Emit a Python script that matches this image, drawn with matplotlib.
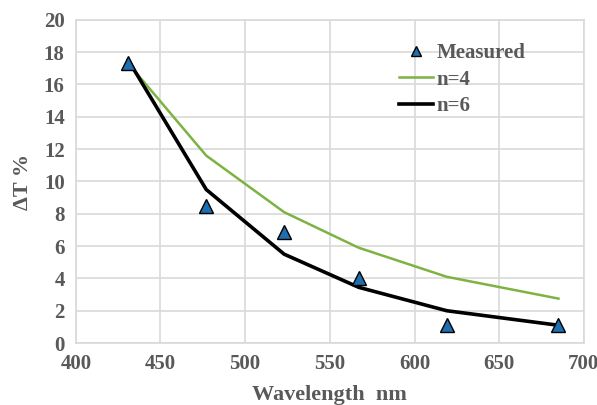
import matplotlib
matplotlib.use('Agg')
import matplotlib.pyplot as plt

# data
wavelength = [431, 477, 523, 567, 619, 685]
measured = [17.3, 8.5, 6.9, 4.05, 1.1, 1.1]
n4 = [17.3, 11.6, 8.1, 5.9, 4.1, 2.75]
n6 = [17.5, 9.5, 5.5, 3.45, 2.0, 1.1]

plt.rcParams['font.family'] = ['Liberation Serif']
plt.rcParams['font.weight'] = 'bold'
grey = '#595959'

fig = plt.figure(figsize=(5.97, 4.05), dpi=100)
ax = fig.add_axes([0.127, 0.153, 0.851, 0.798])

ax.plot(wavelength, n4, color='#7cb342', lw=1.8, label='n=4', zorder=3)
ax.plot(wavelength, n6, color='black', lw=2.6, label='n=6', zorder=3)
ax.plot(wavelength, measured, ls='none', marker='^', ms=10, mfc='#1f6fb0',
        mec='black', mew=1.0, label='Measured', zorder=4)

ax.set_xlim(400, 700)
ax.set_ylim(0, 20)
ax.set_xticks(range(400, 701, 50))
ax.set_yticks(range(0, 21, 2))
ax.grid(True, color='#d9d9d9', lw=1.2)
ax.set_axisbelow(True)
for s in ax.spines.values():
    s.set_color('#d9d9d9')
    s.set_linewidth(1.2)
ax.tick_params(length=0, labelsize=15, labelcolor=grey, pad=8)
for lab in ax.get_xticklabels() + ax.get_yticklabels():
    lab.set_fontweight('bold')

ax.set_xlabel('Wavelength  nm', fontsize=16, color=grey, fontweight='bold', labelpad=8)
ax.set_ylabel('\u0394T %', fontsize=16, color=grey, fontweight='bold', labelpad=8)

h, l = ax.get_legend_handles_labels()
order = [2, 0, 1]
leg = ax.legend([h[i] for i in order], [l[i] for i in order], loc='upper left',
                bbox_to_anchor=(0.6, 0.985), frameon=False,
                handlelength=1.6, handletextpad=0.2, labelspacing=0.3, markerscale=0.75,
                prop={'family': 'Liberation Serif', 'weight': 'bold', 'size': 15})
for t in leg.get_texts():
    t.set_color(grey)

fig.savefig('out.png', dpi=100)
